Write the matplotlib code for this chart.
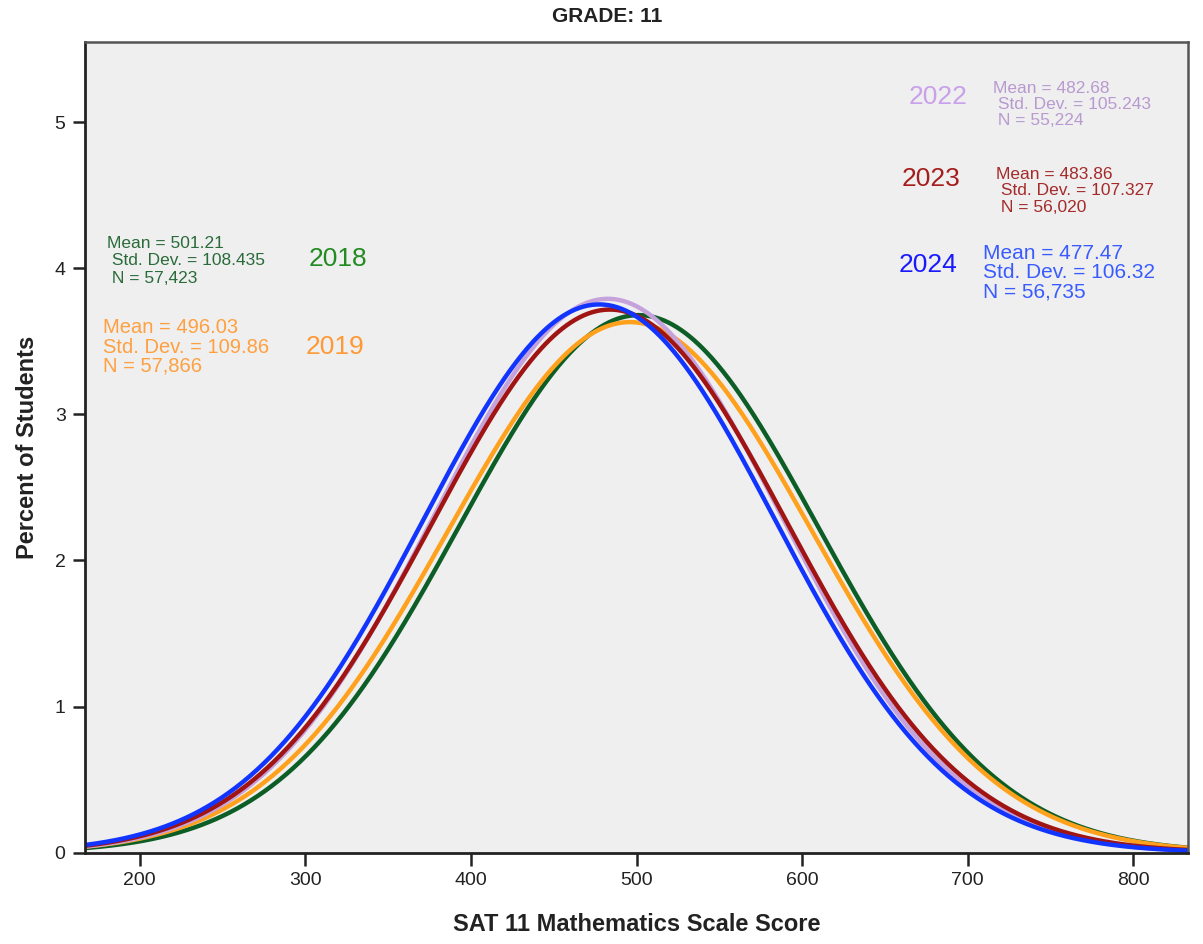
import numpy as np
import matplotlib
matplotlib.use('Agg')
import matplotlib.pyplot as plt

plt.rcParams['font.family'] = ['Liberation Sans', 'DejaVu Sans']

# fitted normal curves, one per year (SPSS histogram normal overlays)
years  = ['2018', '2019', '2022', '2023', '2024']
means  = [501.21, 496.03, 482.68, 483.86, 477.47]
sds    = [108.435, 109.86, 105.243, 107.327, 106.32]
ns     = ['57,423', '57,866', '55,224', '56,020', '56,735']
bin_w  = 10  # score points per histogram bin -> percent scale

line_colors  = ['#0d5e26', '#ffa11c', '#c6a2dc', '#a01414', '#1234ff']
year_colors  = ['#228b22', '#ff9933', '#c9a0ea', '#a51d1d', '#1a1aff']
stats_colors = ['#2a6b3a', '#ffa040', '#b89ad0', '#a52a2a', '#3a5cff']

# label placement (data coords): year label, stats block, font sizes
year_pos   = [(320, 4.06), (318, 3.46), (682, 5.17), (678, 4.61), (676, 4.02)]
stats_pos  = [(180, 4.05), (178, 3.46), (715, 5.12), (717, 4.53), (709, 3.97)]
stats_size = [12.5, 14.5, 12.5, 12.5, 15]
stats_sp   = [1.2, 1.02, 1.1, 1.12, 1.03]
indent     = [' ', '', ' ', ' ', '']

fig = plt.figure(figsize=(12.03, 9.44), dpi=100)
ax = fig.add_axes([0.0707, 0.0967, 0.9168, 0.8591])
ax.set_facecolor('#efefef')

x = np.linspace(160, 840, 800)
for yr, m, s, c in zip(years, means, sds, line_colors):
    pct = 100 * bin_w * np.exp(-0.5 * ((x - m) / s) ** 2) / (s * np.sqrt(2 * np.pi))
    ax.plot(x, pct, color=c, lw=3.2, solid_capstyle='round')

for i, yr in enumerate(years):
    ax.text(*year_pos[i], yr, color=year_colors[i], fontsize=19,
            ha='center', va='center')
    txt = (f'Mean = {means[i]:.2f}\n{indent[i]}Std. Dev. = {sds[i]:g}\n'
           f'{indent[i]}N = {ns[i]}')
    ax.text(*stats_pos[i], txt, color=stats_colors[i], fontsize=stats_size[i],
            ha='left', va='center', multialignment='left',
            linespacing=stats_sp[i])

ax.set_xlim(167, 833)
ax.set_ylim(0, 5.55)
ax.set_xticks([200, 300, 400, 500, 600, 700, 800])
ax.set_yticks([0, 1, 2, 3, 4, 5])
ax.tick_params(direction='out', length=9, width=1.8, labelsize=14,
               colors='#222222', pad=5)

for sp in ('left', 'bottom'):
    ax.spines[sp].set_color('#222222')
    ax.spines[sp].set_linewidth(2)
for sp in ('top', 'right'):
    ax.spines[sp].set_color('#555555')
    ax.spines[sp].set_linewidth(1.8)

ax.set_xlabel('SAT 11 Mathematics Scale Score', fontsize=17, fontweight='bold',
              color='#222222', labelpad=17)
ax.set_ylabel('Percent of Students', fontsize=17, fontweight='bold',
              color='#222222', labelpad=11)
fig.text(0.505, 0.982, 'GRADE: 11', ha='center', va='center',
         fontsize=15, fontweight='bold', color='#222222')

fig.savefig('out.png', dpi=100, facecolor='white')
